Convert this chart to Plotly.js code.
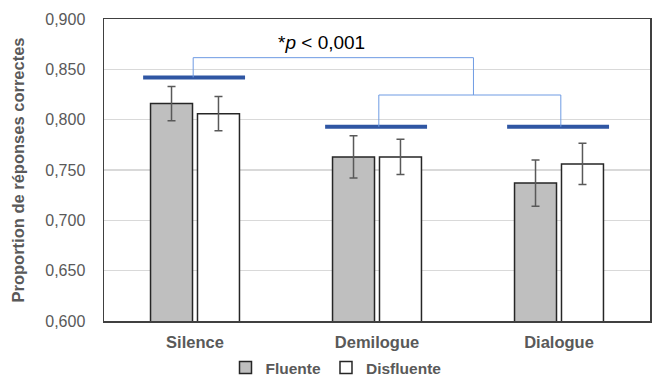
<!DOCTYPE html>
<html>
<head>
<meta charset="utf-8">
<script src="https://cdn.plot.ly/plotly-3.0.1.min.js"></script>
<style>html,body{margin:0;padding:0;background:#fff;}#chart{width:652px;height:385px;}</style>
</head>
<body>
<div id="chart"></div>
<script>
const categories = ['Silence', 'Demilogue', 'Dialogue'];
const seriesNames = ['Fluente', 'Disfluente'];
const fluente = [0.816, 0.763, 0.737];
const fluenteErr = [0.017, 0.021, 0.023];
const disfluente = [0.806, 0.763, 0.756];
const disfluenteErr = [0.017, 0.0175, 0.0205];
// significance markers (y levels)
const groupLevels = [0.842, 0.793, 0.793];
const innerBracketLevel = 0.8245;
const outerBracketLevel = 0.8616;
const sigText = '*<i>p</i> &lt; 0,001';
const yTicks = [0.6, 0.65, 0.7, 0.75, 0.8, 0.85, 0.9];

const grey = '#595959';
const font = 'Liberation Sans, Arial, sans-serif';

const traces = [
  {type: 'bar', name: seriesNames[0], x: categories, y: fluente,
   marker: {color: '#bfbfbf', line: {color: '#262626', width: 1.5}},
   error_y: {type: 'data', array: fluenteErr, visible: true, color: grey, thickness: 1.5, width: 4}},
  {type: 'bar', name: seriesNames[1], x: categories, y: disfluente,
   marker: {color: '#ffffff', line: {color: '#262626', width: 1.5}},
   error_y: {type: 'data', array: disfluenteErr, visible: true, color: grey, thickness: 1.5, width: 4}}
];

const thick = '#2f56a3', thin = '#6e9be3';
const shapes = [];
groupLevels.forEach((lv, i) => {
  shapes.push({type: 'line', xref: 'x', yref: 'y', x0: i - 0.285, x1: i + 0.275, y0: lv, y1: lv,
    line: {color: thick, width: 4}});
});
shapes.push({type: 'path', xref: 'x', yref: 'y',
  path: `M 1.01 ${groupLevels[1]} L 1.01 ${innerBracketLevel} L 2.01 ${innerBracketLevel} L 2.01 ${groupLevels[2]}`,
  line: {color: thin, width: 1}});
shapes.push({type: 'path', xref: 'x', yref: 'y',
  path: `M -0.01 ${groupLevels[0]} L -0.01 ${outerBracketLevel} L 1.53 ${outerBracketLevel} L 1.53 ${innerBracketLevel}`,
  line: {color: thin, width: 1}});

const layout = {
  width: 652, height: 385,
  margin: {l: 104, r: 2, t: 19, b: 64, autoexpand: false},
  paper_bgcolor: '#fff', plot_bgcolor: '#fff',
  separators: ', ',
  barmode: 'group', bargap: 0.484, bargroupgap: 0.106,
  font: {family: font, color: grey, size: 15},
  showlegend: true,
  legend: {orientation: 'h', xref: 'container', x: 336 / 652, xanchor: 'center',
    yref: 'container', y: 0, yanchor: 'bottom', bgcolor: 'rgba(0,0,0,0)',
    font: {family: font, size: 15.5, color: grey, weight: 'bold'}, itemwidth: 30, traceorder: 'normal'},
  xaxis: {range: [-0.5, 2.5], showline: true, mirror: true, linecolor: '#404040', linewidth: 1.5,
    showgrid: false, ticks: '', tickfont: {family: font, size: 16.5, color: grey, weight: 'bold'}, ticklabelstandoff: 6},
  yaxis: {range: [0.6, 0.9], tickvals: yTicks, tickformat: '.3f', showline: true, mirror: true,
    linecolor: '#404040', linewidth: 1.5, showgrid: true, gridcolor: '#d9d9d9', gridwidth: 1.2, zeroline: false,
    ticks: '', ticklabelstandoff: 14, tickfont: {family: font, size: 16, color: grey},
    title: {text: 'Proportion de réponses correctes', font: {family: font, size: 16.5, color: grey, weight: 'bold'}, standoff: 16}},
  shapes: shapes,
  annotations: [{xref: 'paper', yref: 'paper', x: (321 - 104) / 546, y: (321 - 43) / 302, text: sigText,
    showarrow: false, xanchor: 'center', yanchor: 'middle', font: {family: font, size: 19, color: '#000'}}]
};

Plotly.newPlot('chart', traces, layout, {displayModeBar: false, staticPlot: true});
</script>
</body>
</html>
